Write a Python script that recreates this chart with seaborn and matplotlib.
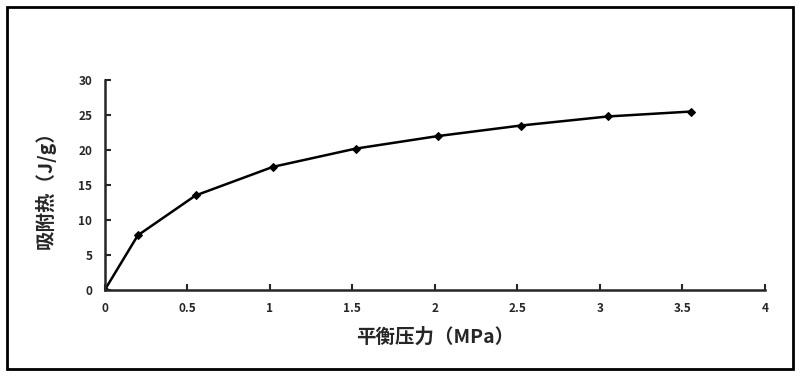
import matplotlib
matplotlib.use("Agg")
import matplotlib.pyplot as plt
import seaborn as sns
import pandas as pd
from matplotlib.patches import Rectangle

# equilibrium pressure (MPa) and adsorption heat (J/g)
pressure = [0, 0.2, 0.55, 1.02, 1.52, 2.02, 2.52, 3.05, 3.55]
heat = [0, 7.8, 13.5, 17.6, 20.2, 22.0, 23.5, 24.8, 25.5]
x_ticks = [0, 0.5, 1, 1.5, 2, 2.5, 3, 3.5, 4]
x_labels = ["0", "0.5", "1", "1.5", "2", "2.5", "3", "3.5", "4"]
y_ticks = [0, 5, 10, 15, 20, 25, 30]

sns.set_style("ticks")
plt.rcParams['font.family'] = ['Noto Sans CJK SC', 'DejaVu Sans']

df = pd.DataFrame({"pressure": pressure, "heat": heat})

fig = plt.figure(figsize=(8, 3.76), dpi=100)
ax = fig.add_axes([0.131, 0.229, 0.825, 0.558])

sns.lineplot(data=df, x="pressure", y="heat", ax=ax, color="black",
             linewidth=1.8, marker="D", markersize=4.5,
             markeredgecolor="black", markerfacecolor="black")

ax.set_xlim(0, 4)
ax.set_ylim(0, 30)
ax.set_xticks(x_ticks)
ax.set_xticklabels(x_labels)
ax.set_yticks(y_ticks)
for s in ["top", "right"]:
    ax.spines[s].set_visible(False)
for s in ["left", "bottom"]:
    ax.spines[s].set_linewidth(1.8)
ax.tick_params(direction="in", length=4, width=1.5, labelsize=8.5, pad=9)
for lab in ax.get_xticklabels() + ax.get_yticklabels():
    lab.set_fontweight("bold")

ax.set_xlabel("平衡压力（MPa）", fontsize=14, fontweight="bold", labelpad=9)
ax.set_ylabel("吸附热（J/g）", fontsize=14, fontweight="bold", labelpad=16)

# outer frame around the whole chart
fig.patches.append(Rectangle((7 / 800, 7 / 376), 786 / 800, 362 / 376,
                             transform=fig.transFigure, fill=False,
                             edgecolor="black", linewidth=2))

fig.savefig("out.png", dpi=100)
